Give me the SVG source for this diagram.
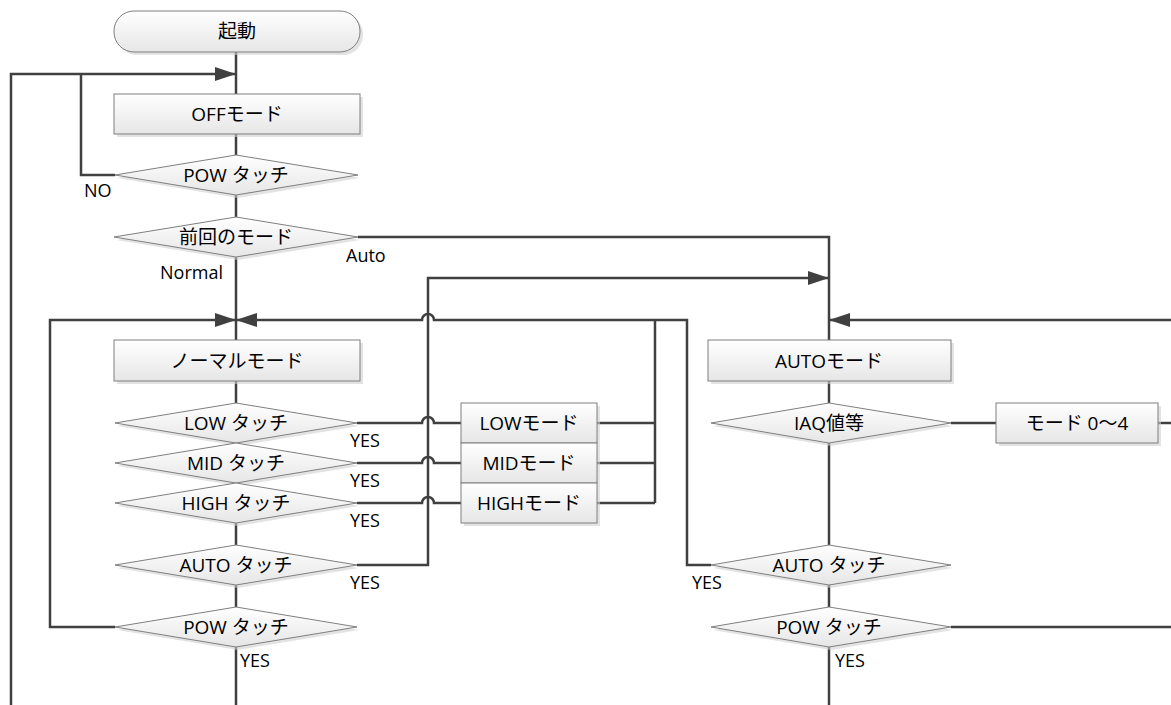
<svg xmlns="http://www.w3.org/2000/svg" width="1171" height="705" viewBox="0 0 1171 705">
<style>
.n{fill:url(#g);stroke:#7f7f7f;stroke-width:1}
.sh{fill:#d0d0d0;opacity:0.6}
.t{font-family:"Open Sans","Noto Sans CJK JP",sans-serif;font-size:19px;fill:#000;text-anchor:middle;dominant-baseline:central}
.l{font-family:"Open Sans","Noto Sans CJK JP",sans-serif;font-size:18px;fill:#000}
.c{fill:none;stroke:#404040;stroke-width:2.5}
</style>
<defs>
<linearGradient id="g" x1="0" y1="0" x2="0" y2="1"><stop offset="0" stop-color="#ffffff"/><stop offset="1" stop-color="#e6e6e6"/></linearGradient>
<marker id="a" markerWidth="22" markerHeight="16" refX="21" refY="8" orient="auto" markerUnits="userSpaceOnUse"><path d="M0,1 L21,8 L0,15 z" fill="#404040"/></marker>
</defs>
<rect width="1171" height="705" fill="#fff"/>
<g id="connectors">
<path class="c" d="M236,52 V94"/>
<path class="c" d="M11,705 V74 H236" marker-end="url(#a)"/>
<path class="c" d="M115,175 H81 V74"/>
<path class="c" d="M236,134 V155"/>
<path class="c" d="M236,195 V217"/>
<path class="c" d="M236,257 V340"/>
<path class="c" d="M358,237 H829 V340"/>
<path class="c" d="M357,565 H428 V278 H829" marker-end="url(#a)"/>
<path class="c" d="M115,627 H50 V320 H236" marker-end="url(#a)"/>
<path class="c" d="M711,565 H687 V320 H434 A6,6 0 0 0 422,320 H236" marker-end="url(#a)"/>
<path class="c" d="M655,320 V503"/>
<path class="c" d="M597,423 H655"/>
<path class="c" d="M597,463 H655"/>
<path class="c" d="M597,503 H655"/>
<path class="c" d="M357,423 H422 A6,6 0 0 1 434,423 H461"/>
<path class="c" d="M357,463 H422 A6,6 0 0 1 434,463 H461"/>
<path class="c" d="M357,503 H422 A6,6 0 0 1 434,503 H461"/>
<path class="c" d="M236,381 V403"/>
<path class="c" d="M236,523 V545"/>
<path class="c" d="M236,585 V607"/>
<path class="c" d="M236,647 V705"/>
<path class="c" d="M1171,320 H829" marker-end="url(#a)"/>
<path class="c" d="M829,381 V403"/>
<path class="c" d="M951,423 H996"/>
<path class="c" d="M1158,423 H1171"/>
<path class="c" d="M829,443 V545"/>
<path class="c" d="M829,585 V607"/>
<path class="c" d="M951,627 H1171"/>
<path class="c" d="M829,647 V705"/>
</g>
<g id="start"><rect class="sh" x="117" y="14" width="246" height="41" rx="20"/><rect class="n" x="114" y="11" width="246" height="41" rx="20"/><text class="t" x="237" y="31">起動</text></g>
<g id="off"><rect class="sh" x="117" y="97" width="246" height="40"/><rect class="n" x="114" y="94" width="246" height="40"/><text class="t" x="237" y="114">OFFモード</text></g>
<g id="pow1"><polygon class="sh" points="238,158 360,178 238,198 117,178"/><polygon class="n" points="236,155 358,175 236,195 115,175"/><text class="t" x="236" y="175">POW タッチ</text></g>
<g id="prev"><polygon class="sh" points="238,220 360,240 238,260 116,240"/><polygon class="n" points="236,217 358,237 236,257 114,237"/><text class="t" x="236" y="237">前回のモード</text></g>
<g id="normal"><rect class="sh" x="117" y="343" width="246" height="41"/><rect class="n" x="114" y="340" width="246" height="41"/><text class="t" x="237" y="361">ノーマルモード</text></g>
<g id="low"><polygon class="sh" points="238,406 359,426 238,446 117,426"/><polygon class="n" points="236,403 357,423 236,443 115,423"/><text class="t" x="236" y="423">LOW タッチ</text></g>
<g id="mid"><polygon class="sh" points="238,446 359,466 238,486 117,466"/><polygon class="n" points="236,443 357,463 236,483 115,463"/><text class="t" x="236" y="463">MID タッチ</text></g>
<g id="high"><polygon class="sh" points="238,486 359,506 238,526 117,506"/><polygon class="n" points="236,483 357,503 236,523 115,503"/><text class="t" x="236" y="503">HIGH タッチ</text></g>
<g id="auto1"><polygon class="sh" points="238,548 359,568 238,588 117,568"/><polygon class="n" points="236,545 357,565 236,585 115,565"/><text class="t" x="236" y="565">AUTO タッチ</text></g>
<g id="pow2"><polygon class="sh" points="238,610 359,630 238,650 117,630"/><polygon class="n" points="236,607 357,627 236,647 115,627"/><text class="t" x="236" y="627">POW タッチ</text></g>
<g id="lowm"><rect class="sh" x="464" y="406" width="136" height="40"/><rect class="n" x="461" y="403" width="136" height="40"/><text class="t" x="529" y="423">LOWモード</text></g>
<g id="midm"><rect class="sh" x="464" y="446" width="136" height="40"/><rect class="n" x="461" y="443" width="136" height="40"/><text class="t" x="529" y="463">MIDモード</text></g>
<g id="highm"><rect class="sh" x="464" y="486" width="136" height="40"/><rect class="n" x="461" y="483" width="136" height="40"/><text class="t" x="529" y="503">HIGHモード</text></g>
<g id="autom"><rect class="sh" x="711" y="343" width="243" height="41"/><rect class="n" x="708" y="340" width="243" height="41"/><text class="t" x="829" y="361">AUTOモード</text></g>
<g id="iaq"><polygon class="sh" points="831,406 953,426 831,446 713,426"/><polygon class="n" points="829,403 951,423 829,443 711,423"/><text class="t" x="829" y="423">IAQ値等</text></g>
<g id="mode04"><rect class="sh" x="999" y="406" width="162" height="40"/><rect class="n" x="996" y="403" width="162" height="40"/><text class="t" x="1077" y="423">モード 0～4</text></g>
<g id="auto2"><polygon class="sh" points="831,548 953,568 831,588 713,568"/><polygon class="n" points="829,545 951,565 829,585 711,565"/><text class="t" x="829" y="565">AUTO タッチ</text></g>
<g id="pow3"><polygon class="sh" points="831,610 953,630 831,650 713,630"/><polygon class="n" points="829,607 951,627 829,647 711,627"/><text class="t" x="829" y="627">POW タッチ</text></g>
<g id="labels">
<text class="l" x="84" y="197">NO</text>
<text class="l" x="346" y="262">Auto</text>
<text class="l" x="160" y="279">Normal</text>
<text class="l" x="350" y="447">YES</text>
<text class="l" x="350" y="487">YES</text>
<text class="l" x="350" y="527">YES</text>
<text class="l" x="350" y="589">YES</text>
<text class="l" x="240" y="667">YES</text>
<text class="l" x="692" y="589">YES</text>
<text class="l" x="835" y="667">YES</text>
</g>
</svg>
